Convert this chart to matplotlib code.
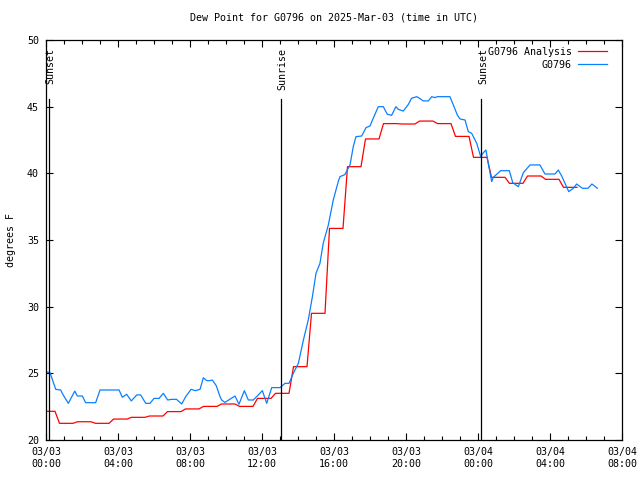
import numpy as np
import matplotlib
matplotlib.use("Agg")
import matplotlib.pyplot as plt
from matplotlib.ticker import MultipleLocator

# hours since 2025-03-03 00:00 UTC
obs_hours = [0.0, 0.22, 0.54, 0.82, 0.9, 1.24, 1.6, 1.74, 2.02, 2.2, 2.76, 3.0, 4.06,
             4.24, 4.48, 4.74, 5.04, 5.26, 5.54, 5.78, 6.0, 6.28, 6.52, 6.76, 6.98,
             7.25, 7.54, 7.76, 8.06, 8.3, 8.56, 8.74, 8.93, 9.1, 9.24, 9.46, 9.67,
             9.76, 9.94, 10.5, 10.72, 11.02, 11.24, 11.52, 11.7, 12.02, 12.26, 12.54,
             13.0, 13.28, 13.5, 13.74, 14.02, 14.3, 14.57, 14.8, 15.0, 15.22, 15.4,
             15.68, 15.96, 16.24, 16.33, 16.6, 16.89, 17.07, 17.22, 17.54, 17.78, 18.0,
             18.18, 18.46, 18.74, 18.96, 19.2, 19.44, 19.57, 19.85, 20.13, 20.31, 20.6,
             20.8, 20.96, 21.24, 21.43, 21.6, 21.74, 22.44, 22.63, 22.85, 23.0, 23.28,
             23.46, 23.65, 23.93, 24.15, 24.3, 24.44, 24.57, 24.76, 24.85, 25.26, 25.74,
             25.93, 26.24, 26.52, 26.89, 27.44, 27.72, 28.28, 28.46, 28.65, 29.04, 29.3,
             29.48, 29.8, 30.11, 30.33, 30.52, 30.63]
obs_dewpt = [25.1, 25.07, 23.8, 23.75, 23.5, 22.75, 23.67, 23.3, 23.3, 22.8, 22.8, 23.75, 23.75,
             23.2, 23.43, 22.93, 23.38, 23.38, 22.75, 22.75, 23.12, 23.12, 23.5, 23.0, 23.05,
             23.05, 22.7, 23.25, 23.8, 23.7, 23.8, 24.67, 24.45, 24.45, 24.5, 24.07, 23.25,
             23.0, 22.82, 23.3, 22.68, 23.7, 23.0, 23.0, 23.25, 23.7, 22.75, 23.93,
             23.93, 24.25, 24.25, 25.0, 25.75, 27.5, 29.0, 30.75, 32.5, 33.25, 34.75,
             36.1, 38.0, 39.4, 39.75, 39.9, 40.63, 42.0, 42.75, 42.8, 43.43, 43.55,
             44.13, 45.0, 45.0, 44.43, 44.35, 45.0, 44.8, 44.67, 45.17, 45.63, 45.75,
             45.58, 45.43, 45.43, 45.75, 45.68, 45.75, 45.75, 45.13, 44.38, 44.08, 44.0,
             43.13, 43.0, 42.25, 41.25, 41.55, 41.75, 40.75, 39.38, 39.7, 40.2, 40.2,
             39.3, 39.0, 40.05, 40.63, 40.63, 39.95, 39.95, 40.25, 39.8, 38.63, 38.88,
             39.2, 38.88, 38.88, 39.2, 39.0, 38.88]

# hourly analysis values (each valid about half an hour either side)
ana_dewpt = [22.15, 21.25, 21.37, 21.25, 21.57, 21.7, 21.8, 22.13, 22.33, 22.52,
             22.7, 22.52, 23.12, 23.5, 25.5, 29.5, 35.87, 40.5, 42.58, 43.73,
             43.7, 43.92, 43.73, 42.77, 41.2, 39.7, 39.25, 39.8, 39.55, 38.95]

sun_hours = [0.14, 13.03, 24.19]
sun_names = ["Sunset", "Sunrise", "Sunset"]

tick_hours = [0, 4, 8, 12, 16, 20, 24, 28, 32]
tick_names = ["03/03\n00:00", "03/03\n04:00", "03/03\n08:00", "03/03\n12:00",
              "03/03\n16:00", "03/03\n20:00", "03/04\n00:00", "03/04\n04:00",
              "03/04\n08:00"]

plt.rcParams['font.family'] = ['DejaVu Sans Mono']
plt.rcParams['font.size'] = 7.2

fig = plt.figure(figsize=(6.4, 4.8), dpi=100)
ax = fig.add_axes([46 / 640, 40 / 480, 576 / 640, 400 / 480])

# analysis sampled every 15 min, holding the hourly value
ana_t = np.arange(0, 29.51, 0.25)
ana_v = np.array(ana_dewpt)[np.floor(ana_t + 0.4).astype(int)]

ax.plot(ana_t, ana_v, color='#ff0000', lw=0.9, label='G0796 Analysis')
ax.plot(obs_hours, obs_dewpt, color='#0a80ff', lw=0.9, label='G0796')

for h, name in zip(sun_hours, sun_names):
    ax.axvline(h, ymin=0, ymax=0.852, color='black', lw=0.9)
    ax.text(h + 0.12, 0.981, name, rotation=90, ha='center', va='top',
            transform=ax.get_xaxis_transform())

ax.set_xlim(0, 32)
ax.set_ylim(20, 50)
ax.set_xticks(tick_hours)
ax.set_xticklabels(tick_names)
ax.xaxis.set_minor_locator(MultipleLocator(1))
ax.set_yticks(range(20, 51, 5))
ax.tick_params(which='both', direction='in', top=True, right=True, pad=5)
ax.tick_params(which='major', length=5, width=0.8)
ax.tick_params(which='minor', length=3, width=0.8)
for s in ax.spines.values():
    s.set_linewidth(0.9)

ax.set_title('Dew Point for G0796 on 2025-Mar-03 (time in UTC)', pad=14, fontsize=7.2)
ax.set_ylabel('degrees F', labelpad=8)

leg = ax.legend(loc='upper right', bbox_to_anchor=(1 - 8 / 576, 1.0), frameon=False,
                markerfirst=False, handlelength=2.9, handletextpad=0.6,
                borderaxespad=0.3, labelspacing=0.3, fontsize=7.2)
for t in leg.get_texts():
    t.set_ha('right')

fig.savefig('out.png', dpi=100)
